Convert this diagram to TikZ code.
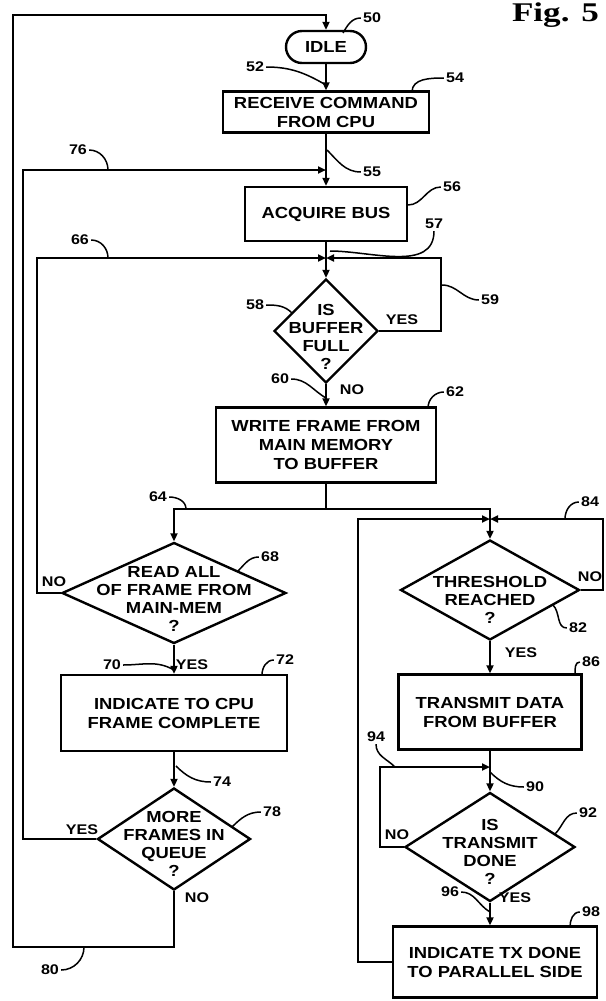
\documentclass[tikz,border=0pt]{standalone}
\usepackage{fontspec}
\setmainfont{Liberation Sans}[FakeStretch=1.15]
\newfontfamily\figfam{Liberation Serif}[FakeStretch=1.3]
\usepackage{tikz}
\usetikzlibrary{shapes.geometric,arrows.meta}
\newcommand{\txtfont}{\fontsize{16}{19}\selectfont\bfseries}
\newcommand{\decfont}{\fontsize{16}{18}\selectfont\bfseries}
\newcommand{\numfont}{\fontsize{14}{16}\selectfont\bfseries}

\begin{document}
\begin{tikzpicture}[x=1pt,y=1pt,line width=2.4pt,
 box/.style={draw,align=center,inner sep=2pt,font=\txtfont},
 dec/.style={diamond,draw,inner sep=0pt},
 dtext/.style={align=center,font=\decfont,inner sep=0pt},
 num/.style={font=\numfont,inner sep=1pt},
 yn/.style={font=\numfont,inner sep=1pt},
 flow/.style={-{Triangle[length=8pt,width=7pt]}},
 lead/.style={line width=1.5pt}]
\useasboundingbox (0,0) rectangle (605,-1001);
\node[font=\figfam\fontsize{27}{30}\selectfont\bfseries,anchor=north east,inner sep=0pt] (fig) at (600,-2) {Fig. 5};
% main column
\node[draw,rounded corners=16pt,minimum width=80pt,minimum height=32pt,font=\txtfont] (idle) at (326,-47) {IDLE};
\node[box,minimum width=206pt,minimum height=41pt] (recv) at (326,-112) {RECEIVE COMMAND\\FROM CPU};
\node[box,minimum width=162pt,minimum height=54pt] (acq) at (326,-214) {ACQUIRE BUS};
\node[dec,minimum width=104pt,minimum height=104pt,
 label={[dtext,yshift=-6pt]center:IS\\BUFFER\\FULL\\?}] (full) at (326,-331) {};
\node[box,minimum width=220pt,minimum height=75pt] (write) at (326,-445) {WRITE FRAME FROM\\MAIN MEMORY\\TO BUFFER};
% left column
\node[dec,minimum width=224pt,minimum height=101pt,
 label={[dtext,yshift=-6pt]center:READ ALL\\OF FRAME FROM\\MAIN-MEM\\?}] (rdall) at (174,-593) {};
\node[box,minimum width=226pt,minimum height=76pt] (cpu) at (174,-713) {INDICATE TO CPU\\FRAME COMPLETE};
\node[dec,minimum width=153pt,minimum height=102pt,
 label={[dtext,yshift=-5pt]center:MORE\\FRAMES IN\\QUEUE\\?}] (more) at (174,-839) {};
% right column
\node[dec,minimum width=179pt,minimum height=100pt,
 label={[dtext,yshift=-10pt]center:THRESHOLD\\REACHED\\?}] (thr) at (490,-590) {};
\node[box,minimum width=183pt,minimum height=75pt] (txd) at (490,-712) {TRANSMIT DATA\\FROM BUFFER};
\node[dec,minimum width=170pt,minimum height=109pt,
 label={[dtext,yshift=-5pt]center:IS\\TRANSMIT\\DONE\\?}] (done) at (490,-847) {};
\node[box,minimum width=204pt,minimum height=71pt] (par) at (495,-962) {INDICATE TX DONE\\TO PARALLEL SIDE};
% junctions and corners
\coordinate (j55) at (326,-170);
\coordinate (j57) at (326,-258);
\coordinate (s64) at (326,-509);
\coordinate (j84) at (490,-519);
\coordinate (j90) at (490,-767);
\coordinate (k50) at (13,-15);
\coordinate (k80) at (13,-947);
\coordinate (k76) at (23,-170);
\coordinate (k66) at (37,-258);
\coordinate (k59) at (441,-258);
\coordinate (k84) at (603,-519);
\coordinate (k98) at (358,-519);
\coordinate (k94) at (380,-767);
% connectors
\draw[flow] (more.south) |- (k80) -- (k50) -| (idle.north);
\draw[flow] (idle) -- (recv);
\draw[flow] (recv) -- (acq);
\draw[flow] (more.west) -| (k76) -- (j55);
\draw[flow] (acq) -- (full);
\draw[flow] (rdall.west) -| (k66) -- (j57);
\draw[flow] (full.east) -| (k59) -- (j57);
\draw[flow] (full) -- (write);
\draw (write.south) -- (s64);
\draw[flow] (s64) -| (rdall.north);
\draw[flow] (s64) -| (thr.north);
\draw[flow] (thr.east) -| (k84) -- (j84);
\draw[flow] (par.west) -| (k98) -- (j84);
\draw[flow] (thr) -- (txd);
\draw[flow] (txd) -- (done);
\draw[flow] (done.west) -| (k94) -- (j90);
\draw[flow] (done.south) -- (done.south |- par.north);
\draw[flow] (rdall) -- (cpu);
\draw[flow] (cpu) -- (more);
% reference numerals
\foreach \n/\a/\lx/\ly/\px/\py/\o/\i in {
 50/west/372/18/343/33/180/60, 52/east/255/67/326/85/0/150,
 54/west/455/78/412/92/180/90, 55/west/372/172/327/150/180/-45,
 56/west/452/187/408/205/180/0, 57/south/434/224/330/251/-90/0,
 58/east/255/305/292/313/0/135, 59/west/490/300/442/285/180/0,
 60/east/280/379/326/398/0/150, 62/west/455/392/428/408/180/90,
 64/east/158/497/186/509/0/90, 66/east/80/240/108/258/0/90,
 68/west/270/557/238/571/180/45, 70/east/112/665/174/670/0/150,
 72/west/285/660/262/675/180/90, 74/west/222/782/176/766/180/-45,
 76/east/78/150/108/170/0/90, 78/west/272/812/232/827/180/45,
 80/east/50/970/84/947/0/-90, 82/west/578/628/553/605/180/-45,
 84/west/590/502/565/519/180/90, 86/west/591/662/575/674/180/90,
 90/west/535/787/490/772/180/-45, 92/west/588/813/555/834/180/45,
 94/south/376/737/395/767/-90/135, 96/east/450/892/490/912/0/150,
 98/west/591/912/570/927/180/90}{
 \node[num] (n\n) at (\lx,-\ly) {\n};
 \coordinate (p\n) at (\px,-\py);
 \draw[lead] (n\n.\a) to[out=\o,in=\i] (p\n);
}
% yes / no
\foreach \t/\x/\y [count=\k] in {YES/402/320, NO/352/390, NO/54/582,
 YES/192/665, YES/82/830, NO/197/898, NO/590/577, YES/521/653,
 NO/397/835, YES/515/898}
 \node[yn] (a\k) at (\x,-\y) {\t};
\end{tikzpicture}
\end{document}
